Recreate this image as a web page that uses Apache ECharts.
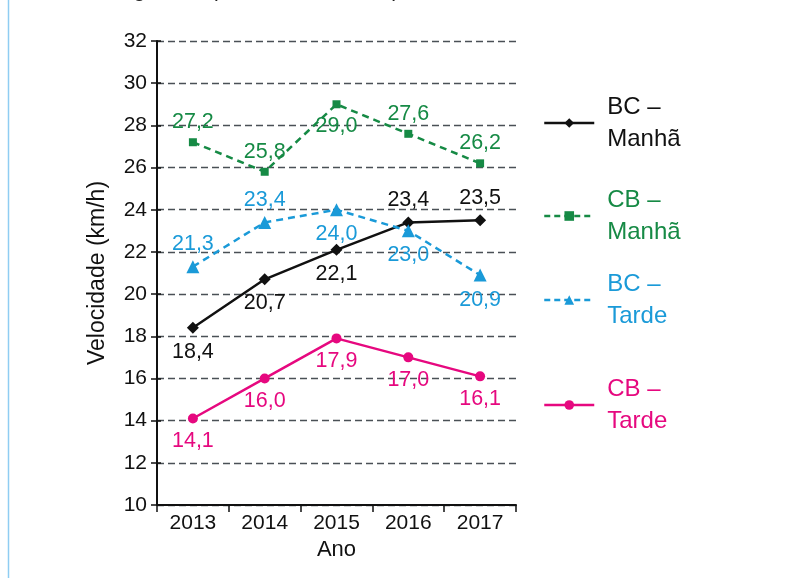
<!DOCTYPE html>
<html>
<head>
    <meta charset="utf-8">
    <title>Velocidade média</title>
    <script src="https://cdn.jsdelivr.net/npm/echarts@6/dist/echarts.min.js"></script>
    <style>
        html, body { margin: 0; padding: 0; background: #fff; }
    </style>
</head>
<body>

<div id="main" style="width: 792px;height:578px;"></div>

<script type="text/javascript">

    // dados
    var anos = ['2013', '2014', '2015', '2016', '2017'];
    var bcManha = [18.4, 20.7, 22.1, 23.4, 23.5];
    var cbManha = [27.2, 25.8, 29.0, 27.6, 26.2];
    var bcTarde = [21.3, 23.4, 24.0, 23.0, 20.9];
    var cbTarde = [14.1, 16.0, 17.9, 17.0, 16.1];
    var yTicks = [10, 12, 14, 16, 18, 20, 22, 24, 26, 28, 30, 32];

    // de que lado fica cada rótulo (acima / abaixo)
    var ladoBcManha = ['bottom', 'bottom', 'bottom', 'top', 'top'];
    var ladoCbManha = ['top', 'top', 'bottom', 'top', 'top'];
    var ladoBcTarde = ['top', 'top', 'bottom', 'bottom', 'bottom'];
    var ladoCbTarde = ['bottom', 'bottom', 'bottom', 'bottom', 'bottom'];

    var fonte = '"Liberation Sans", Arial, sans-serif';
    var preto = '#111111';
    var verde = '#168a45';
    var azul = '#1a9ad8';
    var rosa = '#e6087f';

    function fmt(v) {
        return v.toFixed(1).replace('.', ',');
    }

    function pontos(valores, lados) {
        return valores.map(function (v, i) {
            return {
                value: v,
                label: {
                    position: lados[i],
                    distance: lados[i] === 'top' ? 5 : 7
                }
            };
        });
    }

    function serie(nome, valores, lados, cor, simbolo, tam, tracejado) {
        return {
            name: nome,
            type: 'line',
            data: pontos(valores, lados),
            symbol: simbolo,
            symbolSize: tam,
            color: cor,
            lineStyle: {
                color: cor,
                width: 2.5,
                type: tracejado ? [7, 5] : 'solid'
            },
            itemStyle: { color: cor },
            label: {
                show: true,
                color: cor,
                fontFamily: fonte,
                fontSize: 21.5,
                formatter: function (p) { return fmt(p.value); }
            },
            z: 3
        };
    }

    function legenda(nome, cor, topo, tracejado) {
        return {
            data: [nome],
            left: 543,
            top: topo,
            padding: 0,
            orient: 'vertical',
            itemWidth: 50,
            itemHeight: 12,
            selectedMode: false,
            lineStyle: {
                width: 2.5,
                type: tracejado ? [6, 4] : 'solid'
            },
            textStyle: {
                color: cor,
                fontFamily: fonte,
                fontSize: 24,
                lineHeight: 32,
                padding: [0, 0, 0, 8]
            }
        };
    }

    var myChart = echarts.init(document.getElementById('main'));

    var option = {
        animation: false,
        grid: {
            left: 157,
            right: 276,
            top: 41,
            bottom: 73
        },
        legend: [
            legenda('BC –\nManhã', preto, 91, false),
            legenda('CB –\nManhã', verde, 184, true),
            legenda('BC –\nTarde', azul, 268, true),
            legenda('CB –\nTarde', rosa, 373, false)
        ],
        xAxis: {
            type: 'category',
            data: anos,
            boundaryGap: true,
            name: 'Ano',
            nameLocation: 'middle',
            nameGap: 33,
            nameTextStyle: { color: preto, fontFamily: fonte, fontSize: 22 },
            axisLine: { lineStyle: { color: preto, width: 2 } },
            axisTick: { show: true, inside: false, length: 7, lineStyle: { color: preto, width: 1.5 } },
            axisLabel: { color: preto, fontFamily: fonte, fontSize: 21, margin: 8 }
        },
        yAxis: [
            {
                type: 'value',
                min: yTicks[0],
                max: yTicks[yTicks.length - 1],
                interval: 2,
                name: 'Velocidade (km/h)',
                nameLocation: 'middle',
                nameGap: 48,
                nameTextStyle: { color: preto, fontFamily: fonte, fontSize: 23 },
                axisLine: { show: true, lineStyle: { color: preto, width: 2 } },
                axisTick: { show: true, inside: false, length: 6, lineStyle: { color: preto, width: 1.5 } },
                axisLabel: { color: preto, fontFamily: fonte, fontSize: 21, margin: 10 },
                splitLine: {
                    show: true,
                    lineStyle: { color: '#4a5056', width: 1.3, type: [7, 4] }
                }
            },
            {
                type: 'value',
                position: 'left',
                min: yTicks[0],
                max: yTicks[yTicks.length - 1],
                interval: 2,
                axisLine: { show: false },
                axisTick: { show: true, inside: true, length: 4, lineStyle: { color: preto, width: 1.5 } },
                axisLabel: { show: false },
                splitLine: { show: false }
            }
        ],
        series: [
            serie('BC –\nManhã', bcManha, ladoBcManha, preto, 'diamond', 12, false),
            serie('CB –\nManhã', cbManha, ladoCbManha, verde, 'rect', 8, true),
            serie('BC –\nTarde', bcTarde, ladoBcTarde, azul, 'triangle', 13, true),
            serie('CB –\nTarde', cbTarde, ladoCbTarde, rosa, 'circle', 10, false)
        ],
        graphic: [
            {
                type: 'line',
                shape: { x1: 8.5, y1: 0, x2: 8.5, y2: 578 },
                style: { stroke: '#8fcdf2', lineWidth: 1.5 }
            },
            {
                type: 'text',
                left: 40,
                top: -19,
                style: {
                    text: 'Abaixo, o gráfico apresenta esse comparativo.',
                    fill: '#222',
                    font: '21px "Liberation Sans", Arial, sans-serif'
                }
            }
        ]
    };

    myChart.setOption(option);

</script>
</body>
</html>
